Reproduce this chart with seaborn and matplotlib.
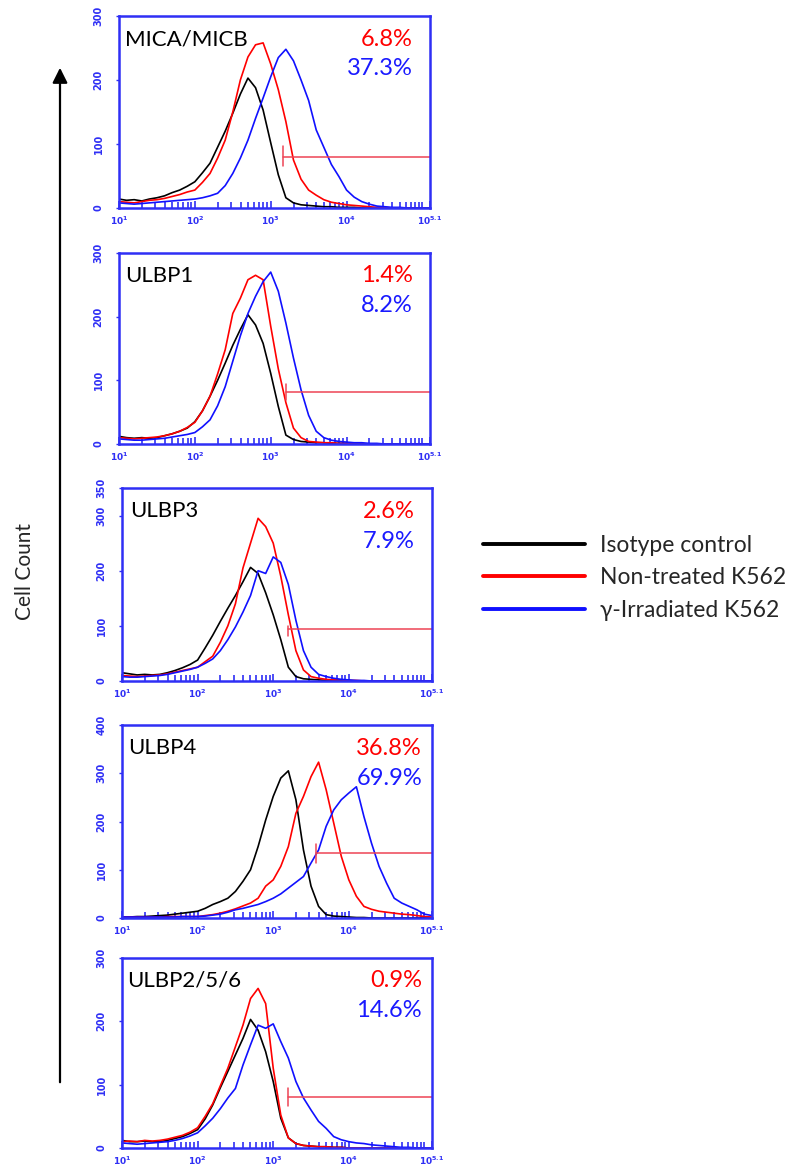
import numpy as np
import pandas as pd
import matplotlib
matplotlib.use("Agg")
import matplotlib.pyplot as plt
from matplotlib.lines import Line2D
from matplotlib.ticker import FixedLocator, NullFormatter
import seaborn as sns

# ---------------- data ----------------
# log10 fluorescence bin centres 1.0 ... 5.1 (step 0.1)
LOG_BINS = [1.0, 1.1, 1.2, 1.3, 1.4, 1.5, 1.6, 1.7, 1.8, 1.9,
            2.0, 2.1, 2.2, 2.3, 2.4, 2.5, 2.6, 2.7, 2.8, 2.9,
            3.0, 3.1, 3.2, 3.3, 3.4, 3.5, 3.6, 3.7, 3.8, 3.9,
            4.0, 4.1, 4.2, 4.3, 4.4, 4.5, 4.6, 4.7, 4.8, 4.9,
            5.0, 5.1]

panel_names = ["MICA/MICB", "ULBP1", "ULBP3", "ULBP4", "ULBP2/5/6"]
series_names = ["Isotype control", "Non-treated K562", "γ-Irradiated K562"]
pct_nontreated = ["6.8%", "1.4%", "2.6%", "36.8%", "0.9%"]
pct_irradiated = ["37.3%", "8.2%", "7.9%", "69.9%", "14.6%"]
y_max = [300, 300, 350, 400, 300]
y_ticks = [[0, 100, 200, 300], [0, 100, 200, 300], [0, 100, 200, 300, 350],
           [0, 100, 200, 300, 400], [0, 100, 200, 300]]

# gate marker: start (log10), level, vertical tick low, vertical tick high
gate_start = [3.16, 3.2, 3.2, 3.56, 3.2]
gate_level = [80, 82, 95, 134, 81]
gate_lo = [65, 69, 82, 114, 67]
gate_hi = [97, 95, 100, 154, 95]

mica_iso = [14, 12, 13, 11, 14, 16, 19, 24, 28, 34, 41, 55, 70, 95, 120, 148, 178, 203, 188, 153,
            102, 52, 16, 8, 5, 4, 3, 2, 2, 1, 1, 1, 0, 0, 0, 0, 0, 0, 0, 0, 0, 0]
mica_non = [10, 9, 8, 10, 12, 13, 15, 18, 21, 25, 28, 40, 54, 78, 106, 150, 200, 236, 255, 258,
            225, 185, 135, 75, 45, 28, 20, 13, 9, 7, 5, 4, 3, 2, 1, 1, 0, 0, 0, 0, 0, 0]
mica_irr = [8, 7, 6, 7, 8, 9, 10, 11, 12, 13, 14, 16, 19, 23, 35, 54, 78, 106, 140, 172,
            205, 235, 248, 230, 200, 168, 122, 95, 68, 49, 28, 17, 10, 6, 3, 2, 1, 1, 0, 0, 0, 0]

ulbp1_iso = [12, 10, 9, 10, 9, 10, 13, 16, 20, 25, 35, 52, 75, 100, 127, 155, 180, 203, 187, 158,
             111, 59, 14, 7, 4, 3, 2, 2, 1, 1, 1, 0, 0, 0, 0, 0, 0, 0, 0, 0, 0, 0]
ulbp1_non = [10, 9, 8, 9, 10, 11, 13, 16, 20, 26, 34, 52, 75, 110, 148, 205, 229, 258, 265, 258,
             185, 118, 65, 25, 10, 4, 3, 2, 2, 1, 1, 0, 0, 0, 0, 0, 0, 0, 0, 0, 0, 0]
ulbp1_irr = [8, 7, 6, 6, 7, 8, 9, 11, 13, 15, 18, 27, 38, 60, 90, 130, 170, 205, 232, 255,
             270, 240, 190, 135, 85, 45, 20, 10, 6, 4, 3, 2, 2, 1, 1, 0, 0, 0, 0, 0, 0, 0]

ulbp3_iso = [15, 13, 11, 12, 11, 12, 15, 19, 24, 30, 38, 60, 83, 108, 132, 155, 180, 206, 195, 160,
             120, 75, 25, 8, 4, 3, 2, 1, 1, 0, 0, 0, 0, 0, 0, 0, 0, 0, 0, 0, 0, 0]
ulbp3_non = [10, 9, 8, 9, 10, 11, 13, 16, 19, 22, 25, 35, 45, 70, 100, 140, 205, 250, 295, 280,
             250, 190, 120, 55, 20, 8, 5, 3, 2, 2, 1, 1, 0, 0, 0, 0, 0, 0, 0, 0, 0, 0]
ulbp3_irr = [8, 7, 7, 8, 9, 10, 12, 15, 18, 21, 25, 32, 40, 55, 75, 98, 125, 155, 200, 195,
             225, 215, 175, 110, 55, 25, 12, 8, 5, 3, 2, 1, 1, 0, 0, 0, 0, 0, 0, 0, 0, 0]

ulbp4_iso = [2, 2, 3, 3, 4, 5, 6, 8, 10, 12, 14, 20, 28, 34, 41, 55, 76, 100, 148, 203,
             252, 290, 305, 245, 141, 66, 24, 7, 4, 3, 2, 1, 1, 0, 0, 0, 0, 0, 0, 0, 0, 0]
ulbp4_non = [2, 2, 2, 2, 2, 2, 3, 3, 3, 3, 3, 5, 7, 10, 14, 19, 25, 31, 41, 66,
             79, 107, 148, 217, 252, 293, 323, 266, 197, 128, 79, 45, 24, 18, 14, 12, 10, 8, 7, 5,
             3, 2]
ulbp4_irr = [2, 2, 2, 2, 2, 2, 2, 2, 3, 3, 3, 4, 6, 8, 12, 17, 20, 24, 28, 34,
             41, 50, 62, 74, 86, 114, 141, 190, 224, 245, 259, 272, 210, 155, 107, 72, 41, 31, 24, 17,
             8, 5]

ulbp256_iso = [12, 10, 10, 11, 10, 10, 12, 15, 18, 23, 29, 46, 68, 95, 121, 147, 173, 203, 186, 152,
               105, 47, 16, 7, 4, 3, 2, 2, 1, 1, 0, 0, 0, 0, 0, 0, 0, 0, 0, 0, 0, 0]
ulbp256_non = [10, 11, 10, 12, 11, 12, 14, 17, 20, 25, 32, 50, 70, 98, 126, 160, 194, 236, 252, 228,
               126, 52, 16, 7, 4, 3, 2, 2, 1, 1, 0, 0, 0, 0, 0, 0, 0, 0, 0, 0, 0, 0]
ulbp256_irr = [8, 7, 6, 7, 8, 9, 10, 12, 15, 19, 24, 35, 47, 62, 79, 94, 131, 163, 194, 189,
               196, 168, 142, 105, 79, 60, 42, 31, 18, 13, 10, 8, 7, 5, 4, 3, 2, 1, 1, 0, 0, 0]

panel_curves = [
    [mica_iso, mica_non, mica_irr],
    [ulbp1_iso, ulbp1_non, ulbp1_irr],
    [ulbp3_iso, ulbp3_non, ulbp3_irr],
    [ulbp4_iso, ulbp4_non, ulbp4_irr],
    [ulbp256_iso, ulbp256_non, ulbp256_irr],
]

# ---------------- styling ----------------
W, H = 795, 1166
SPINE_BLUE = "#2f2ff5"
LINE_COLORS = {"Isotype control": "#000000",
               "Non-treated K562": "#ff0000",
               "γ-Irradiated K562": "#1010ff"}
GATE_RED = "#ee4455"

sns.set_style("white")
plt.rcParams["font.family"] = ["Lato", "DejaVu Sans"]

fig = plt.figure(figsize=(W / 100, H / 100), dpi=100)

# panel rectangles in pixel units: left, top, right, bottom
rects_px = [(119, 16, 430, 208), (119, 253, 430, 444), (122, 488, 432, 681),
            (122, 725, 432, 918), (122, 958, 432, 1148)]
pct_x = [0.945, 0.945, 0.945, 0.968, 0.968]
lab_x = [0.02, 0.02, 0.026, 0.02, 0.016]

major_x = [10, 100, 1000, 10000, 10 ** 5.1]
major_lbl = [r"$\mathbf{10^{1}}$", r"$\mathbf{10^{2}}$", r"$\mathbf{10^{3}}$",
             r"$\mathbf{10^{4}}$", r"$\mathbf{10^{5.1}}$"]
minor_x = [k * 10 ** d for d in range(1, 5) for k in range(2, 10)] + [1e5]

for i, (l, t, r, b) in enumerate(rects_px):
    ax = fig.add_axes([l / W, 1 - b / H, (r - l) / W, (b - t) / H])
    rows = []
    for sname, vals in zip(series_names, panel_curves[i]):
        for lg, v in zip(LOG_BINS, vals):
            rows.append({"fluor": 10 ** lg, "count": v, "series": sname})
    df = pd.DataFrame(rows)
    sns.lineplot(data=df, x="fluor", y="count", hue="series", hue_order=series_names,
                 palette=LINE_COLORS, legend=False, ax=ax, linewidth=1.2, estimator=None,
                 sort=True)
    ax.set_xscale("log")
    ax.set_xlim(10, 10 ** 5.1)
    ax.set_ylim(0, y_max[i])
    ax.set_xlabel("")
    ax.set_ylabel("")

    # gate
    gx0 = 10 ** gate_start[i]
    ax.plot([gx0, 10 ** 5.1], [gate_level[i], gate_level[i]], color=GATE_RED, lw=1.1, zorder=4)
    ax.plot([gx0, gx0], [gate_lo[i], gate_hi[i]], color=GATE_RED, lw=1.1, zorder=4)

    # ticks
    ax.xaxis.set_major_locator(FixedLocator(major_x))
    ax.set_xticklabels(major_lbl)
    ax.xaxis.set_minor_locator(FixedLocator(minor_x))
    ax.xaxis.set_minor_formatter(NullFormatter())
    ax.tick_params(axis="x", which="both", direction="in", colors=SPINE_BLUE,
                   bottom=True, top=False, width=1.2, labelsize=6.5, pad=5)
    ax.tick_params(axis="x", which="major", length=5)
    ax.tick_params(axis="x", which="minor", length=4)
    ax.set_yticks(y_ticks[i])
    ax.tick_params(axis="y", which="major", direction="out", length=2, width=1,
                   colors=SPINE_BLUE, left=True, labelsize=7, pad=9)
    for tl in ax.get_yticklabels():
        tl.set_rotation(90)
        tl.set_va("center")
        tl.set_fontweight("bold")
        tl.set_family("DejaVu Sans")
    for sp in ax.spines.values():
        sp.set_color(SPINE_BLUE)
        sp.set_linewidth(1.8)
        sp.set_zorder(6)
        sp.set_visible(True)

    ax.text(lab_x[i], 0.88, panel_names[i], transform=ax.transAxes, fontsize=16,
            color="black", ha="left", va="center")
    ax.text(pct_x[i], 0.88, pct_nontreated[i], transform=ax.transAxes, fontsize=17,
            color="#ff0000", ha="right", va="center")
    ax.text(pct_x[i], 0.725, pct_irradiated[i], transform=ax.transAxes, fontsize=17,
            color="#1a1aff", ha="right", va="center")

# y-axis label with arrow
fig.text(25 / W, 1 - 572 / H, "Cell Count", rotation=90, fontsize=15,
         ha="center", va="center")
fig.add_artist(matplotlib.patches.FancyArrowPatch(
    (60 / W, 1 - 1085 / H), (60 / W, 1 - 65 / H), transform=fig.transFigure,
    arrowstyle="-|>,head_length=6,head_width=3", lw=1.6, color="black",
    mutation_scale=1.5))

# legend
handles = [Line2D([0], [0], color=LINE_COLORS[s], lw=2.8) for s in series_names]
fig.legend(handles, series_names, loc="center left",
           bbox_to_anchor=(483 / W, 1 - 578 / H), frameon=False, fontsize=16.5,
           handlelength=4.45, handletextpad=0.65, labelspacing=0.52, borderpad=0,
           borderaxespad=0)

fig.savefig("out.png", dpi=100)
